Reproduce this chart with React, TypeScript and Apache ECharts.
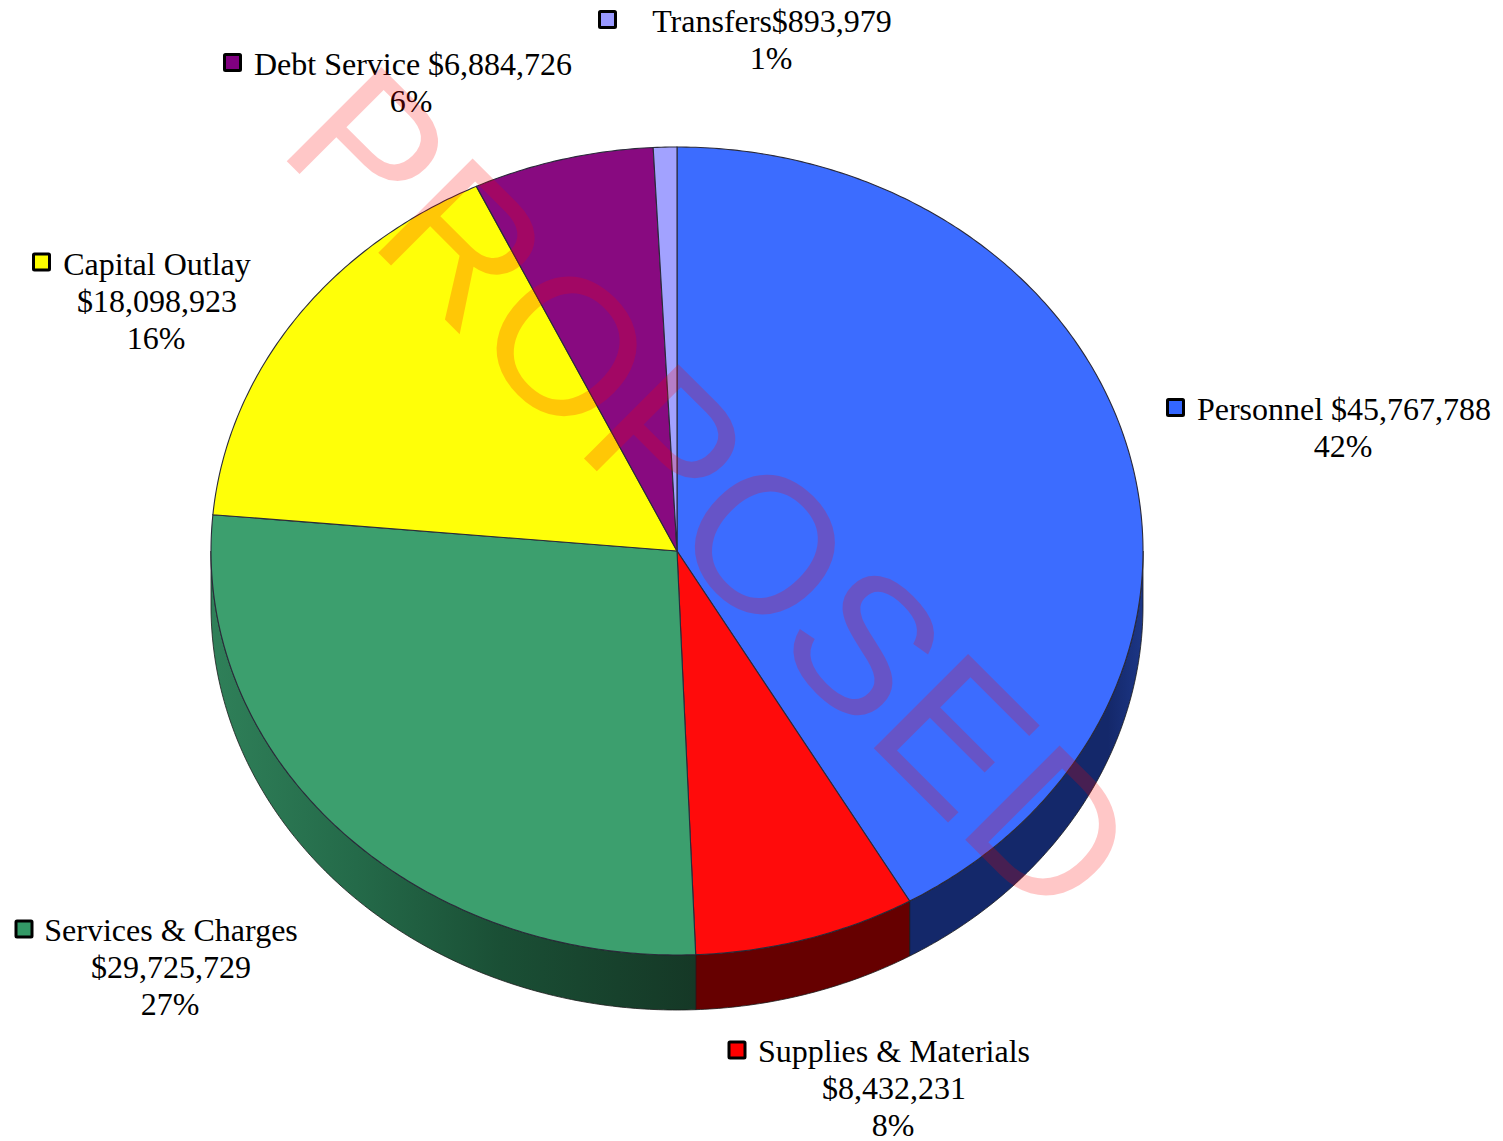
import React, { useEffect, useRef } from "react";
import * as echarts from "echarts";

const categories = ["Personnel", "Supplies & Materials", "Services & Charges", "Capital Outlay", "Debt Service", "Transfers"];
const values = [45767788, 8432231, 29725729, 18098923, 6884726, 893979];
const percents = ["42%", "8%", "27%", "16%", "6%", "1%"];
const topColors = ["#3c6cff", "#ff0b0b", "#3c9f6e", "#ffff08", "#880a80", "#a2a2ff"];
const keyColors = ["#3366ff", "#ff0000", "#339966", "#ffff00", "#800080", "#9999ff"];
const WATERMARK = "PROPOSED";

const money = (v: number) => "$" + v.toLocaleString("en-US");
const labelLines = [
  [categories[0] + " " + money(values[0]), percents[0]],
  [categories[1], money(values[1]), percents[1]],
  [categories[2], money(values[2]), percents[2]],
  [categories[3], money(values[3]), percents[3]],
  [categories[4] + " " + money(values[4]), percents[4]],
  [categories[5] + money(values[5]), percents[5]],
];
// label layout: centre x of the text block, first line centre y, key position, percent-line x nudge
const labelLayout = [
  { cx: 1344, y: 409, kx: 1167.5, ky: 399.5, nudge: -1 },
  { cx: 894, y: 1051, kx: 729, ky: 1042, nudge: -1 },
  { cx: 171, y: 930, kx: 16, ky: 921, nudge: -1 },
  { cx: 157, y: 264, kx: 33.5, ky: 254, nudge: -1 },
  { cx: 413, y: 64, kx: 224.5, ky: 54.5, nudge: -2 },
  { cx: 772, y: 21, kx: 599.5, ky: 11.5, nudge: -1 },
];

const CX = 677, CY = 551, RX = 466, RY = 404, DEPTH = 55;
const total = values.reduce((a, b) => a + b, 0);
const starts: number[] = [];
values.reduce((acc, v, i) => { starts[i] = acc; return acc + v; }, 0);

const toAngle = (v: number) => (v / total) * Math.PI * 2;
const pt = (t: number, dy = 0) => [CX + RX * Math.sin(t), CY - RY * Math.cos(t) + dy];
const arc = (a: number, b: number, dy = 0) => {
  const n = Math.max(2, Math.ceil((b - a) / 0.01));
  const out: number[][] = [];
  for (let i = 0; i <= n; i++) out.push(pt(a + ((b - a) * i) / n, dy));
  return out;
};

const sideFill = (i: number): any => {
  if (i === 2) {
    return new echarts.graphic.LinearGradient(211, 0, 695, 0, [
      { offset: 0, color: "#2f8059" },
      { offset: 0.3, color: "#246a49" },
      { offset: 0.6, color: "#1a4f35" },
      { offset: 1, color: "#153826" },
    ], true);
  }
  if (i === 0) {
    return new echarts.graphic.LinearGradient(909, 0, 1143, 0, [
      { offset: 0, color: "#14286a" },
      { offset: 0.85, color: "#14286a" },
      { offset: 1, color: "#1c3686" },
    ], true);
  }
  return "#660000";
};

const renderItem = (params: any, api: any) => {
  const i = params.dataIndex;
  const v = api.value(0);
  const a = toAngle(starts[i]);
  const b = a + toAngle(v);
  const children: any[] = [];
  const sa = Math.max(a, Math.PI / 2);
  const sb = Math.min(b, (Math.PI * 3) / 2);
  if (sb > sa) {
    const upper = arc(sa, sb);
    const lower = arc(sa, sb, DEPTH).reverse();
    children.push({
      type: "polygon",
      shape: { points: upper.concat(lower) },
      style: { fill: sideFill(i), stroke: "#1a1a1a", lineWidth: 0.8 },
      z2: 1,
    });
  }
  children.push({
    type: "polygon",
    shape: { points: [[CX, CY], ...arc(a, b)] },
    style: { fill: topColors[i], stroke: "#2a2a3a", lineWidth: 1.1 },
    z2: 2,
  });
  return { type: "group", children };
};

const labelGraphics = () => {
  const els: any[] = [];
  labelLines.forEach((lines, i) => {
    const l = labelLayout[i];
    els.push({
      type: "rect",
      shape: { x: l.kx, y: l.ky, width: 16, height: 16, r: 1 },
      style: { fill: keyColors[i], stroke: "#000", lineWidth: 3 },
      z: 20,
    });
    lines.forEach((line, j) => {
      els.push({
        type: "text",
        x: l.cx + (j === lines.length - 1 ? l.nudge : 0),
        y: l.y + j * 37,
        style: {
          text: line,
          fill: "#000",
          font: '32px "Liberation Serif"',
          textAlign: "center",
          textVerticalAlign: "middle",
        },
        z: 20,
      });
    });
  });
  els.push({
    type: "text",
    x: 712,
    y: 491,
    rotation: -Math.PI / 4,
    style: {
      text: WATERMARK,
      fill: "rgba(255,0,0,0.22)",
      font: '194px "Liberation Sans"',
      textAlign: "center",
      textVerticalAlign: "middle",
    },
    z: 30,
  });
  return els;
};

export default function App() {
  const ref = useRef<HTMLDivElement>(null);
  useEffect(() => {
    document.body.style.margin = "0";
    document.body.style.background = "#fff";
    const chart = echarts.init(ref.current!, undefined, { renderer: "svg" });
    chart.setOption({
      animation: false,
      backgroundColor: "#fff",
      graphic: { elements: labelGraphics() },
      series: [
        {
          type: "custom",
          coordinateSystem: "none",
          renderItem,
          data: values.map((v, i) => ({ name: categories[i], value: [v] })),
          silent: true,
        },
      ],
    });
    return () => chart.dispose();
  }, []);
  return <div ref={ref} style={{ width: 1503, height: 1141 }} />;
}
